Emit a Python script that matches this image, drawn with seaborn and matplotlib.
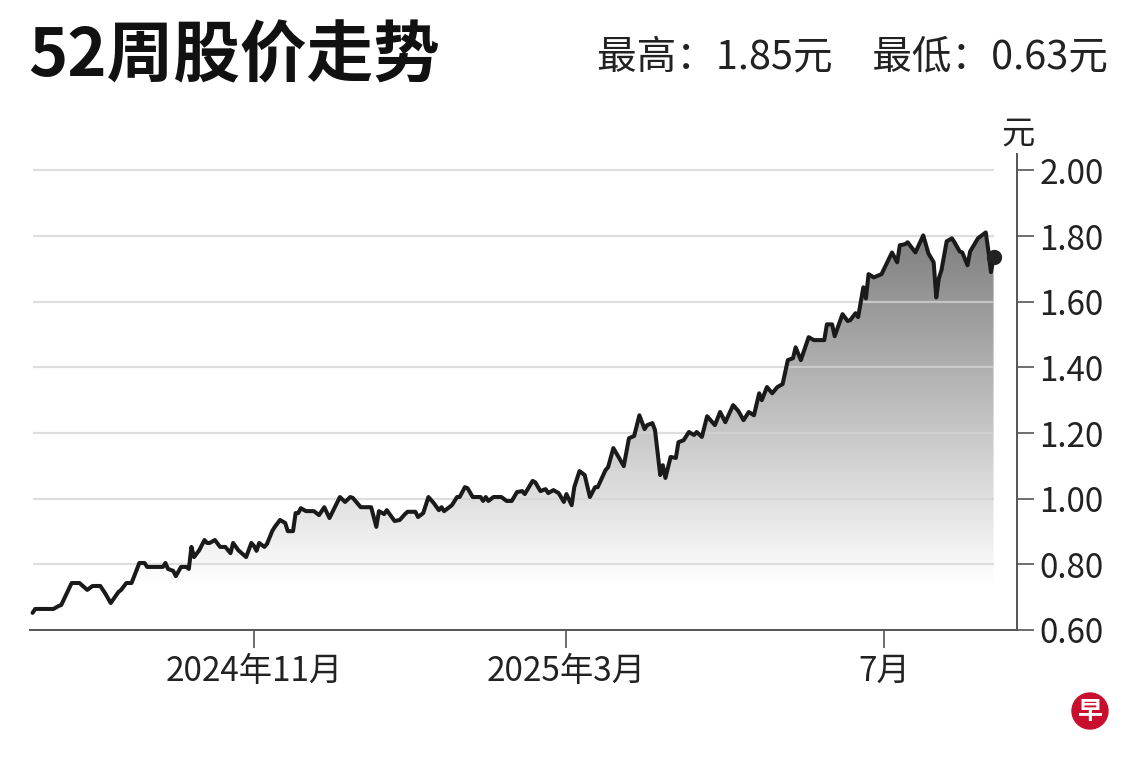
import numpy as np
import pandas as pd
import seaborn as sns
import matplotlib.pyplot as plt
import matplotlib.dates as mdates
from matplotlib.colors import LinearSegmentedColormap
from matplotlib.patches import Ellipse

# price series (yuan)
dates = [
    "2024-08-08", "2024-08-09", "2024-08-16", "2024-08-18", "2024-08-19", "2024-08-23", "2024-08-26", "2024-08-29", "2024-08-31", "2024-09-03",
    "2024-09-05", "2024-09-07", "2024-09-10", "2024-09-11", "2024-09-13", "2024-09-15", "2024-09-18", "2024-09-20", "2024-09-21", "2024-09-27",
    "2024-09-28", "2024-09-29", "2024-10-01", "2024-10-02", "2024-10-04", "2024-10-06", "2024-10-07", "2024-10-08", "2024-10-09", "2024-10-11",
    "2024-10-13", "2024-10-14", "2024-10-15", "2024-10-17", "2024-10-19", "2024-10-21", "2024-10-23", "2024-10-24", "2024-10-26", "2024-10-29",
    "2024-10-31", "2024-11-01", "2024-11-02", "2024-11-03", "2024-11-05", "2024-11-06", "2024-11-08", "2024-11-09", "2024-11-11", "2024-11-13",
    "2024-11-14", "2024-11-16", "2024-11-17", "2024-11-18", "2024-11-19", "2024-11-21", "2024-11-24", "2024-11-26", "2024-11-28", "2024-11-30",
    "2024-12-04", "2024-12-06", "2024-12-08", "2024-12-09", "2024-12-12", "2024-12-16", "2024-12-18", "2024-12-19", "2024-12-21", "2024-12-22",
    "2024-12-25", "2024-12-27", "2024-12-29", "2024-12-30", "2025-01-02", "2025-01-03", "2025-01-05", "2025-01-07", "2025-01-09", "2025-01-11",
    "2025-01-12", "2025-01-13", "2025-01-16", "2025-01-18", "2025-01-19", "2025-01-21", "2025-01-22", "2025-01-24", "2025-01-27", "2025-01-28",
    "2025-01-29", "2025-01-30", "2025-02-01", "2025-02-04", "2025-02-06", "2025-02-08", "2025-02-10", "2025-02-12", "2025-02-13", "2025-02-16",
    "2025-02-17", "2025-02-19", "2025-02-21", "2025-02-22", "2025-02-24", "2025-02-26", "2025-02-28", "2025-03-01", "2025-03-03", "2025-03-04",
    "2025-03-06", "2025-03-08", "2025-03-10", "2025-03-12", "2025-03-13", "2025-03-16", "2025-03-17", "2025-03-19", "2025-03-21", "2025-03-23",
    "2025-03-25", "2025-03-27", "2025-03-29", "2025-03-31", "2025-04-01", "2025-04-03", "2025-04-04", "2025-04-06", "2025-04-07", "2025-04-08",
    "2025-04-10", "2025-04-12", "2025-04-13", "2025-04-15", "2025-04-17", "2025-04-19", "2025-04-20", "2025-04-22", "2025-04-24", "2025-04-27",
    "2025-04-29", "2025-05-01", "2025-05-04", "2025-05-06", "2025-05-08", "2025-05-10", "2025-05-12", "2025-05-14", "2025-05-15", "2025-05-17",
    "2025-05-19", "2025-05-21", "2025-05-23", "2025-05-25", "2025-05-27", "2025-05-28", "2025-05-30", "2025-06-02", "2025-06-04", "2025-06-08",
    "2025-06-09", "2025-06-11", "2025-06-12", "2025-06-15", "2025-06-17", "2025-06-18", "2025-06-20", "2025-06-21", "2025-06-23", "2025-06-24",
    "2025-06-25", "2025-06-27", "2025-06-30", "2025-07-02", "2025-07-04", "2025-07-06", "2025-07-07", "2025-07-09", "2025-07-10", "2025-07-13",
    "2025-07-16", "2025-07-18", "2025-07-20", "2025-07-21", "2025-07-22", "2025-07-23", "2025-07-25", "2025-07-27", "2025-07-28", "2025-07-30",
    "2025-07-31", "2025-08-02", "2025-08-03", "2025-08-06", "2025-08-07", "2025-08-09", "2025-08-10", "2025-08-11", "2025-08-12",
]
prices = [
    0.652, 0.664, 0.664, 0.673, 0.676, 0.743, 0.743, 0.722, 0.734, 0.734,
    0.710, 0.682, 0.716, 0.722, 0.743, 0.743, 0.804, 0.804, 0.792, 0.792,
    0.804, 0.786, 0.780, 0.764, 0.792, 0.792, 0.786, 0.853, 0.822, 0.843,
    0.874, 0.865, 0.865, 0.874, 0.853, 0.853, 0.834, 0.865, 0.843, 0.822,
    0.865, 0.856, 0.841, 0.865, 0.853, 0.862, 0.901, 0.914, 0.935, 0.926,
    0.901, 0.901, 0.956, 0.956, 0.971, 0.962, 0.962, 0.950, 0.974, 0.941,
    1.005, 0.990, 1.005, 1.002, 0.974, 0.974, 0.914, 0.962, 0.953, 0.965,
    0.932, 0.935, 0.953, 0.960, 0.960, 0.944, 0.956, 1.005, 0.987, 0.965,
    0.974, 0.962, 0.980, 1.005, 1.005, 1.035, 1.032, 1.005, 1.005, 0.993,
    1.005, 0.993, 1.005, 1.005, 0.993, 0.993, 1.020, 1.023, 1.014, 1.054,
    1.050, 1.023, 1.029, 1.017, 1.026, 1.017, 0.990, 1.014, 0.980, 1.035,
    1.084, 1.072, 1.005, 1.035, 1.035, 1.087, 1.096, 1.154, 1.127, 1.099,
    1.184, 1.191, 1.254, 1.212, 1.224, 1.230, 1.209, 1.072, 1.102, 1.063,
    1.127, 1.124, 1.172, 1.178, 1.203, 1.194, 1.203, 1.188, 1.251, 1.224,
    1.264, 1.233, 1.285, 1.267, 1.239, 1.264, 1.254, 1.321, 1.300, 1.340,
    1.321, 1.340, 1.349, 1.422, 1.428, 1.461, 1.422, 1.492, 1.483, 1.483,
    1.531, 1.531, 1.495, 1.562, 1.541, 1.544, 1.565, 1.553, 1.644, 1.610,
    1.684, 1.674, 1.684, 1.717, 1.750, 1.720, 1.772, 1.775, 1.781, 1.750,
    1.802, 1.747, 1.720, 1.613, 1.671, 1.696, 1.784, 1.793, 1.781, 1.753,
    1.750, 1.711, 1.753, 1.793, 1.799, 1.811, 1.756, 1.690, 1.735,
]
y_ticks = [0.60, 0.80, 1.00, 1.20, 1.40, 1.60, 1.80, 2.00]
x_tick_dates = ["2024-11-01", "2025-03-01", "2025-07-01"]
x_tick_labels = ["2024年11月", "2025年3月", "7月"]
title = "52周股价走势"
high_low = "最高：1.85元　最低：0.63元"

df = pd.DataFrame({"date": pd.to_datetime(dates), "price": prices})

sns.set_theme(style="white")
plt.rcParams['font.family'] = ['Noto Sans CJK SC', 'DejaVu Sans']

fig = plt.figure(figsize=(11.4, 7.6), dpi=100)
ax = fig.add_axes([0.0263, 0.1711, 0.8658, 0.6263])

x_lo = pd.Timestamp("2024-08-07")
x_hi = pd.Timestamp("2025-08-21")

# horizontal guides, only as far as the data runs (drawn over the fill)
ax.hlines(y_ticks[1:], df["date"].iloc[0], df["date"].iloc[-1],
          color="#d4d4d4", lw=1.6, alpha=0.75, zorder=2)

# gradient fill under the line (white low down, mid grey near the top)
poly = ax.fill_between(df["date"], df["price"], 0.6, color="none", lw=0)
clip = poly.get_paths()[0]
cmap = LinearSegmentedColormap.from_list("g", ["#ffffff", "#7a7a7a"])
grad = np.linspace(0, 1, 256).reshape(-1, 1)
img = ax.imshow(grad, cmap=cmap, origin="lower", aspect="auto", zorder=1,
                extent=[mdates.date2num(x_lo), mdates.date2num(x_hi), 0.74, 1.85],
                interpolation="bicubic")
img.set_clip_path(clip, transform=ax.transData)

sns.lineplot(data=df, x="date", y="price", ax=ax, color="#1a1a1a", lw=2.9,
             zorder=3, solid_joinstyle="round", solid_capstyle="round")
ax.plot(df["date"].iloc[-1], df["price"].iloc[-1], "o", color="#222222",
        ms=10, zorder=4)

ax.set_xlim(x_lo, x_hi)
ax.set_ylim(0.6, 2.05)
ax.set_xlabel("")
ax.set_ylabel("")

ax.yaxis.tick_right()
ax.set_yticks(y_ticks)
ax.set_yticklabels([f"{v:.2f}" for v in y_ticks])
ax.set_xticks(pd.to_datetime(x_tick_dates))
ax.set_xticklabels(x_tick_labels)

for side in ["left", "top"]:
    ax.spines[side].set_visible(False)
for side in ["right", "bottom"]:
    ax.spines[side].set_color("#555555")
    ax.spines[side].set_linewidth(1.4)

ax.tick_params(axis="y", which="major", right=True, left=False, length=12,
               width=1.2, color="#555555", pad=4, labelsize=24,
               labelcolor="#222222")
ax.tick_params(axis="x", which="major", bottom=True, length=13, width=1.2,
               color="#555555", pad=4, labelsize=24, labelcolor="#222222")

fig.text(28 / 1140, 1 - 57 / 760, title, fontsize=48, fontweight="bold",
         ha="left", va="center", color="#111111")
fig.text(1108 / 1140, 1 - 57 / 760, high_low, fontsize=28.5,
         ha="right", va="center", color="#222222")
fig.text(1018 / 1140, 1 - 134 / 760, "元", fontsize=24,
         ha="center", va="center", color="#222222")

# small red badge in the corner
badge = Ellipse((1090 / 1140, 1 - 711 / 760), 36 / 1140, 36 / 760,
                transform=fig.transFigure, color="#c8102e", zorder=5)
fig.patches.append(badge)
fig.text(1090 / 1140, 1 - 712 / 760, "早", fontsize=18, fontweight="bold",
         color="white", ha="center", va="center", zorder=6)

fig.savefig("out.png", dpi=100, facecolor="white")
